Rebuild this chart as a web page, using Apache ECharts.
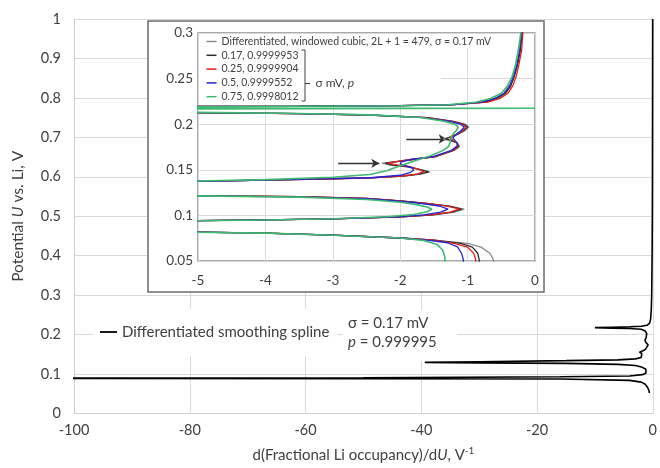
<!DOCTYPE html>
<html>
<head>
<meta charset="utf-8">
<script src="https://cdn.jsdelivr.net/npm/echarts@6/dist/echarts.min.js"></script>
<style>
  html, body { margin: 0; padding: 0; background: #fff; }
  #chart { width: 660px; height: 468px; }
</style>
</head>
<body>
<div id="chart"></div>
<script>
// main chart: [dQ/dU, U]
const splineCurve = [
  [-0.02, 1.0], [-0.03, 0.9], [-0.04, 0.8], [-0.05, 0.7], [-0.06, 0.6], [-0.08, 0.5],
  [-0.12, 0.4], [-0.19, 0.3], [-0.26, 0.265], [-0.37, 0.24], [-0.55, 0.229], [-1.0, 0.2235],
  [-2, 0.221], [-4, 0.2198], [-7, 0.2188], [-10, 0.2177], [-7, 0.2165], [-4, 0.2155],
  [-2, 0.2135], [-1.3, 0.209], [-1.05, 0.203], [-1.0, 0.198], [-1.15, 0.192], [-1.35, 0.186],
  [-1.2, 0.18], [-0.8, 0.174], [-0.85, 0.169], [-1.3, 0.162], [-1.9, 0.158], [-2.3, 0.1555],
  [-1.9, 0.152], [-1.6, 0.147], [-2, 0.142], [-3, 0.1385], [-6, 0.136], [-15, 0.134],
  [-30, 0.1312], [-39.4, 0.1295], [-30, 0.1283], [-15, 0.127], [-6, 0.1245], [-3, 0.1215],
  [-1.8, 0.117], [-1.2, 0.112], [-1.0, 0.107], [-1.2, 0.102], [-1.8, 0.0985], [-4, 0.095],
  [-16, 0.093], [-50, 0.0902], [-130, 0.0896], [-50, 0.0884], [-16, 0.0875], [-4, 0.084],
  [-2, 0.0795], [-1.3, 0.074], [-0.9, 0.066], [-0.65, 0.058], [-0.6, 0.052]
];

// inset curves
const windowedCubic = [
  [-0.17, 0.32], [-0.19, 0.30], [-0.22, 0.28], [-0.26, 0.265], [-0.31, 0.252], [-0.36, 0.242],
  [-0.43, 0.234], [-0.56, 0.2282], [-0.74, 0.2242], [-1.2, 0.2214], [-2, 0.2203], [-3.5, 0.2197],
  [-5, 0.2194], [-8, 0.2188], [-11, 0.2177], [-8, 0.2141], [-5, 0.2127], [-3.5, 0.2117],
  [-2.45, 0.2101], [-1.6, 0.2073], [-1.2, 0.2032], [-1.03, 0.1998], [-0.98, 0.1968], [-1.04, 0.1928],
  [-1.14, 0.1888], [-1.28, 0.1852], [-1.36, 0.184], [-1.28, 0.1826], [-1.16, 0.1797], [-1.12, 0.1757],
  [-1.2, 0.1713], [-1.46, 0.1646], [-1.85, 0.161], [-2.1, 0.1588], [-2.27, 0.1572], [-2.15, 0.1552],
  [-1.9, 0.1532], [-1.7, 0.1503], [-1.56, 0.1478], [-1.7, 0.1452], [-1.95, 0.1432], [-2.44, 0.1411],
  [-3, 0.1402], [-4, 0.1387], [-5, 0.1373], [-10, 0.1345], [-40, 0.1296], [-10, 0.1252],
  [-5, 0.1216], [-3.5, 0.1205], [-2.5, 0.1186], [-2, 0.1158], [-1.6, 0.113], [-1.25, 0.11],
  [-1.05, 0.1068], [-1.2, 0.1035], [-1.5, 0.1005], [-2, 0.0982], [-3, 0.0962], [-4, 0.095],
  [-5, 0.0942], [-12, 0.0922], [-120, 0.089], [-12, 0.0845], [-5, 0.0816], [-4, 0.0806],
  [-3, 0.0783], [-2, 0.0752], [-1.5, 0.073], [-1.0, 0.0694], [-0.8, 0.0652], [-0.67, 0.0585],
  [-0.62, 0.052], [-0.6, 0.045]
];
const sigma017 = [
  [-0.17, 0.32], [-0.19, 0.30], [-0.22, 0.28], [-0.26, 0.265], [-0.31, 0.252], [-0.36, 0.242],
  [-0.44, 0.234], [-0.57, 0.2282], [-0.75, 0.2242], [-1.2, 0.2214], [-2, 0.2203], [-3.5, 0.2197],
  [-5, 0.2195], [-8, 0.2189], [-11, 0.2177], [-8, 0.214], [-5, 0.2126], [-3.5, 0.2116],
  [-2.45, 0.21], [-1.6, 0.2072], [-1.22, 0.2032], [-1.05, 0.1998], [-1.0, 0.1968], [-1.06, 0.1928],
  [-1.16, 0.1888], [-1.28, 0.1852], [-1.33, 0.184], [-1.26, 0.1826], [-1.16, 0.1797], [-1.13, 0.1757],
  [-1.21, 0.1713], [-1.47, 0.1646], [-1.86, 0.161], [-2.08, 0.1588], [-2.22, 0.1573], [-2.12, 0.1553],
  [-1.88, 0.1532], [-1.7, 0.1503], [-1.58, 0.1478], [-1.72, 0.1452], [-1.96, 0.1432], [-2.44, 0.1411],
  [-3, 0.1402], [-4, 0.1387], [-5, 0.1373], [-10, 0.1345], [-40, 0.1296], [-10, 0.1252],
  [-5, 0.1216], [-3.5, 0.1205], [-2.5, 0.1186], [-2, 0.1158], [-1.6, 0.1131], [-1.27, 0.1101],
  [-1.09, 0.1068], [-1.23, 0.1035], [-1.52, 0.1005], [-2, 0.0983], [-3, 0.0962], [-4, 0.095],
  [-5, 0.0942], [-12, 0.0922], [-120, 0.089], [-12, 0.0845], [-5, 0.0816], [-4, 0.0806],
  [-3, 0.0783], [-2, 0.0752], [-1.5, 0.0729], [-1.1, 0.0694], [-0.93, 0.0652], [-0.85, 0.0585],
  [-0.83, 0.052], [-0.82, 0.045]
];
const sigma025 = [
  [-0.16, 0.32], [-0.18, 0.30], [-0.2, 0.28], [-0.24, 0.265], [-0.28, 0.252], [-0.33, 0.242],
  [-0.4, 0.234], [-0.52, 0.2283], [-0.7, 0.2243], [-1.2, 0.2215], [-2, 0.2204], [-3.5, 0.2198],
  [-5, 0.2196], [-8, 0.219], [-11, 0.2177], [-8, 0.2139], [-5, 0.2125], [-3.5, 0.2115],
  [-2.45, 0.2099], [-1.6, 0.2071], [-1.24, 0.2032], [-1.07, 0.1998], [-1.02, 0.1968], [-1.08, 0.1928],
  [-1.17, 0.1888], [-1.26, 0.1855], [-1.28, 0.1842], [-1.22, 0.1826], [-1.16, 0.1797], [-1.14, 0.1757],
  [-1.22, 0.1713], [-1.48, 0.1646], [-1.86, 0.161], [-2.05, 0.159], [-2.18, 0.1575], [-2.08, 0.1556],
  [-1.86, 0.1534], [-1.72, 0.1505], [-1.65, 0.148], [-1.75, 0.1453], [-1.97, 0.1432], [-2.44, 0.1411],
  [-3, 0.1402], [-4, 0.1387], [-5, 0.1373], [-10, 0.1345], [-40, 0.1296], [-10, 0.1252],
  [-5, 0.1216], [-3.5, 0.1205], [-2.5, 0.1186], [-2, 0.1158], [-1.62, 0.1131], [-1.3, 0.1101],
  [-1.12, 0.1068], [-1.26, 0.1035], [-1.55, 0.1005], [-2, 0.0983], [-3, 0.0962], [-4, 0.095],
  [-5, 0.0942], [-12, 0.0922], [-120, 0.089], [-12, 0.0845], [-5, 0.0816], [-4, 0.0806],
  [-3, 0.0783], [-2, 0.0752], [-1.5, 0.0728], [-1.2, 0.0694], [-1.0, 0.0652], [-0.91, 0.0585],
  [-0.88, 0.052], [-0.875, 0.045]
];
const sigma05 = [
  [-0.18, 0.32], [-0.2, 0.30], [-0.23, 0.28], [-0.27, 0.265], [-0.32, 0.252], [-0.38, 0.242],
  [-0.46, 0.234], [-0.6, 0.2282], [-0.8, 0.2241], [-1.25, 0.2213], [-2, 0.2203], [-3.5, 0.2197],
  [-5, 0.2194], [-8, 0.2188], [-11, 0.2177], [-8, 0.2141], [-5, 0.2127], [-3.5, 0.2117],
  [-2.45, 0.2101], [-1.65, 0.2073], [-1.26, 0.2032], [-1.1, 0.1998], [-1.05, 0.1968], [-1.1, 0.1928],
  [-1.17, 0.1888], [-1.22, 0.1852], [-1.22, 0.1835], [-1.18, 0.1815], [-1.15, 0.179], [-1.16, 0.1757],
  [-1.24, 0.1713], [-1.5, 0.1646], [-1.86, 0.161], [-1.98, 0.1588], [-2.0, 0.1565], [-1.92, 0.1545],
  [-1.82, 0.152], [-1.8, 0.1495], [-1.86, 0.1468], [-2.0, 0.144], [-2.44, 0.1413], [-3, 0.1403],
  [-4, 0.1388], [-5, 0.1374], [-10, 0.1346], [-40, 0.1296], [-10, 0.1251], [-5, 0.1215],
  [-3.5, 0.1204], [-2.5, 0.1184], [-2.05, 0.1158], [-1.7, 0.1133], [-1.42, 0.1103], [-1.29, 0.1068],
  [-1.4, 0.1035], [-1.65, 0.1005], [-2.05, 0.0983], [-3, 0.0962], [-4, 0.095], [-5, 0.0942],
  [-12, 0.0922], [-120, 0.089], [-12, 0.0845], [-5, 0.0816], [-4, 0.0806], [-3, 0.0783],
  [-2, 0.0752], [-1.6, 0.0728], [-1.3, 0.07], [-1.15, 0.0655], [-1.09, 0.0585], [-1.065, 0.052],
  [-1.06, 0.045]
];
const sigma075 = [
  [-0.19, 0.32], [-0.21, 0.30], [-0.25, 0.28], [-0.29, 0.265], [-0.34, 0.252], [-0.41, 0.242],
  [-0.5, 0.234], [-0.66, 0.2281], [-0.88, 0.224], [-1.3, 0.2213], [-2, 0.2203], [-3.5, 0.2197],
  [-5, 0.2192], [-8, 0.2186], [-11, 0.2176], [0, 0.2175], [0, 0.2159], [-11, 0.2158],
  [-8, 0.2146], [-5, 0.213], [-3.5, 0.2118], [-2.45, 0.2102], [-1.7, 0.2073], [-1.35, 0.2032],
  [-1.18, 0.1998], [-1.14, 0.1968], [-1.17, 0.1928], [-1.22, 0.1888], [-1.25, 0.185], [-1.26, 0.18],
  [-1.28, 0.1757], [-1.36, 0.1713], [-1.55, 0.1655], [-1.78, 0.16], [-2.0, 0.1545], [-2.2, 0.149],
  [-2.45, 0.1448], [-3, 0.1418], [-4, 0.1392], [-5, 0.1377], [-10, 0.135], [-40, 0.1296],
  [-10, 0.125], [-5, 0.1214], [-3.5, 0.12], [-2.5, 0.1175], [-2, 0.1145], [-1.75, 0.1118],
  [-1.6, 0.1093], [-1.53, 0.1068], [-1.6, 0.104], [-1.8, 0.101], [-2.2, 0.0985], [-3, 0.0963],
  [-4, 0.095], [-5, 0.0942], [-12, 0.0922], [-120, 0.089], [-12, 0.0845], [-5, 0.0816],
  [-4, 0.0806], [-3, 0.0783], [-2, 0.0752], [-1.65, 0.0725], [-1.45, 0.068], [-1.37, 0.062],
  [-1.34, 0.055], [-1.33, 0.045]
];

const insetNames = [
  'Differentiated, windowed cubic, 2L + 1 = 479, σ = 0.17 mV',
  '0.17, 0.9999953',
  '0.25, 0.9999904',
  '0.5, 0.9999552',
  '0.75, 0.9998012'
];
const insetData = [windowedCubic, sigma017, sigma025, sigma05, sigma075];
const insetColors = ['#8c8c8c', '#2b2b2b', '#e3201b', '#2424d8', '#3dba6e'];

// arrows in the inset, [from, to] in data units
const arrows = [
  [[-2.92, 0.1571], [-2.31, 0.1571]],
  [[-1.91, 0.1838], [-1.31, 0.1838]]
];

const mainX = { min: -100, max: 0, interval: 20 };
const mainY = { min: 0, max: 1, interval: 0.1 };
const insetX = { min: -5, max: 0, interval: 1 };
const insetY = { min: 0.05, max: 0.3, interval: 0.05 };

const FONT = 'Lato, "Liberation Sans", sans-serif';
const TXT = '#404040';
const GRID = '#d9d9d9';

const chart = echarts.init(document.getElementById('chart'));

const insetSeries = insetData.map((d, i) => ({
  name: insetNames[i],
  type: 'line',
  xAxisIndex: 1,
  yAxisIndex: 1,
  data: d,
  showSymbol: false,
  clip: true,
  z: 5,
  color: insetColors[i],
  lineStyle: { width: i === 4 ? 1.6 : 1.3, color: insetColors[i] },
  markLine: i === 0 ? {
    silent: true,
    symbol: ['none', 'arrow'],
    symbolSize: [7, 8],
    label: { show: false },
    lineStyle: { color: '#333', width: 1.3, type: 'solid' },
    data: arrows.map(a => [{ coord: a[0] }, { coord: a[1] }])
  } : undefined
}));

chart.setOption({
  animation: false,
  backgroundColor: '#fff',
  textStyle: { fontFamily: FONT },
  grid: [
    { left: 74, right: 3, top: 19, bottom: 52 },
    { left: 198, top: 33, width: 337, height: 228, show: true, z: 4,
      borderColor: '#8f8f8f', borderWidth: 1.5, backgroundColor: 'transparent' }
  ],
  legend: [
    {
      data: insetNames,
      orient: 'vertical',
      left: 206.5, top: 35,
      padding: 0, itemGap: 0.8,
      itemWidth: 10, itemHeight: 1.5,
      icon: 'rect',
      z: 6,
      textStyle: { color: TXT, fontSize: 10.5, lineHeight: 13, fontFamily: FONT }
    },
    {
      data: ['Differentiated smoothing spline'],
      left: 93, top: 309,
      padding: [14, 8, 15, 7],
      backgroundColor: '#fff',
      itemWidth: 17, itemHeight: 1.8,
      icon: 'rect',
      z: 6,
      textStyle: { color: TXT, fontSize: 15, lineHeight: 18, fontFamily: FONT }
    }
  ],
  xAxis: [
    {
      type: 'value', gridIndex: 0, ...mainX,
      axisLine: { show: true, onZero: false, lineStyle: { color: '#cfcfcf' } },
      axisTick: { show: false },
      splitLine: { lineStyle: { color: GRID } },
      axisLabel: { color: TXT, fontSize: 14.5, margin: 9 },
      name: '{a|d(Fractional Li occupancy)/d}{i|U}{a|, V}{s|-1}',
      nameLocation: 'middle', nameGap: 32,
      nameTextStyle: {
        rich: {
          a: { fontSize: 15, color: TXT, lineHeight: 20, verticalAlign: 'middle', fontFamily: FONT },
          i: { fontSize: 15, color: TXT, lineHeight: 20, fontStyle: 'italic', verticalAlign: 'middle', fontFamily: FONT },
          s: { fontSize: 10, color: TXT, lineHeight: 10, verticalAlign: 'top', fontFamily: FONT }
        }
      }
    },
    {
      type: 'value', gridIndex: 1, ...insetX, z: 4,
      axisLine: { show: false, onZero: false },
      axisTick: { show: false },
      splitLine: { lineStyle: { color: GRID } },
      axisLabel: { color: TXT, fontSize: 13.5, margin: 13 }
    }
  ],
  yAxis: [
    {
      type: 'value', gridIndex: 0, ...mainY,
      axisLine: { show: true, onZero: false, lineStyle: { color: '#cfcfcf' } },
      axisTick: { show: false },
      splitLine: { lineStyle: { color: GRID } },
      axisLabel: { color: TXT, fontSize: 14.5, margin: 13 },
      name: '{a|Potential }{i|U}{a| vs. Li, V}',
      nameLocation: 'middle', nameGap: 48,
      nameTextStyle: {
        rich: {
          a: { fontSize: 15.5, color: TXT, fontFamily: FONT },
          i: { fontSize: 15.5, color: TXT, fontStyle: 'italic', fontFamily: FONT }
        }
      }
    },
    {
      type: 'value', gridIndex: 1, ...insetY, z: 4,
      axisLine: { show: false, onZero: false },
      axisTick: { show: false },
      splitLine: { lineStyle: { color: GRID } },
      axisLabel: { color: TXT, fontSize: 13.5, margin: 5 }
    }
  ],
  graphic: [
    { type: 'rect', z: 3, shape: { x: 148, y: 21, width: 396, height: 271 },
      style: { fill: '#fff', stroke: '#6b6b6b', lineWidth: 1.5 } },
    // white area behind the inset legend
    { type: 'rect', z: 4.5, shape: { x: 199, y: 34, width: 242, height: 70 },
      style: { fill: '#fff' } },
    { type: 'rect', z: 4.5, shape: { x: 199, y: 34, width: 298, height: 14 },
      style: { fill: '#fff' } },
    { type: 'polyline', z: 6, shape: { points: [[301.5, 50], [305, 50], [305, 101], [301.5, 101]] },
      style: { stroke: TXT, lineWidth: 1, fill: null } },
    { type: 'line', z: 6, shape: { x1: 305, y1: 83.5, x2: 310, y2: 83.5 },
      style: { stroke: TXT, lineWidth: 1 } },
    { type: 'text', z: 6, x: 315.5, y: 83.5,
      style: {
        text: '{a|σ mV, }{i|p}', verticalAlign: 'middle',
        rich: {
          a: { fontSize: 12, fill: TXT, fontFamily: FONT },
          i: { fontSize: 12, fill: TXT, fontStyle: 'italic', fontFamily: FONT }
        }
      } },
    { type: 'text', z: 6, x: 343, y: 310,
      style: {
        text: '{a|σ = 0.17 mV}\n{i|p}{a| = 0.999995}',
        backgroundColor: '#fff',
        padding: [4, 20, 9, 5],
        rich: {
          a: { fontSize: 15, lineHeight: 19, fill: TXT, fontFamily: FONT },
          i: { fontSize: 15, lineHeight: 19, fill: TXT, fontStyle: 'italic', fontFamily: FONT }
        }
      } }
  ],
  series: [
    {
      name: 'Differentiated smoothing spline',
      type: 'line',
      xAxisIndex: 0, yAxisIndex: 0,
      data: splineCurve,
      showSymbol: false,
      z: 2,
      color: '#000',
      lineStyle: { width: 1.6, color: '#000' }
    },
    ...insetSeries
  ]
});
</script>
</body>
</html>
